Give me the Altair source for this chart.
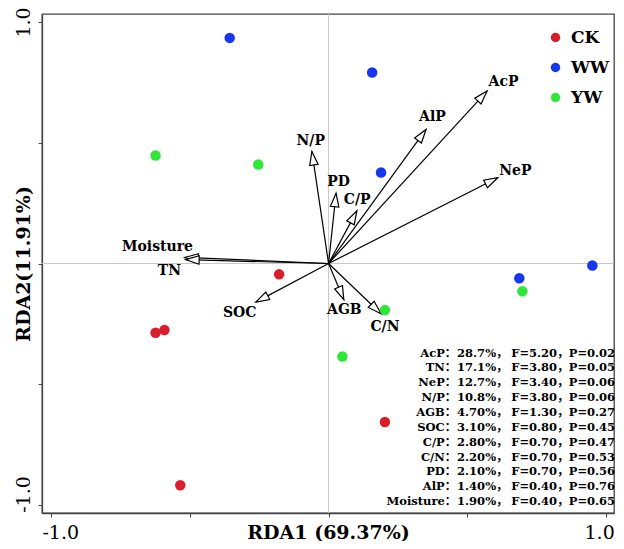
import math
import altair as alt
import pandas as pd

# ---------------- data ----------------
ck_x = [-0.178, -0.623, -0.591, 0.203, -0.534]
ck_y = [-0.045, -0.287, -0.275, -0.656, -0.918]
ww_x = [-0.356, 0.157, 0.189, 0.687, 0.950]
ww_y = [0.934, 0.791, 0.377, -0.061, -0.008]
yw_x = [-0.623, -0.253, 0.203, 0.050, 0.698]
yw_y = [0.447, 0.410, -0.193, -0.385, -0.115]

env_names = ["AcP", "AlP", "NeP", "N/P", "PD", "C/P", "Moisture", "TN", "SOC", "AGB", "C/N"]
env_x = [0.571, 0.351, 0.609, -0.060, 0.027, 0.102, -0.518, -0.515, -0.262, 0.055, 0.189]
env_y = [0.714, 0.555, 0.355, 0.464, 0.291, 0.218, 0.025, 0.016, -0.160, -0.150, -0.208]
lab_x = [0.630, 0.374, 0.673, -0.064, 0.036, 0.103, -0.616, -0.573, -0.320, 0.057, 0.203]
lab_y = [0.750, 0.607, 0.381, 0.508, 0.336, 0.262, 0.070, -0.029, -0.205, -0.193, -0.262]

tbl_var = ["AcP", "TN", "NeP", "N/P", "AGB", "SOC", "C/P", "C/N", "PD", "AlP", "Moisture"]
tbl_pct = ["28.7%", "17.1%", "12.7%", "10.8%", "4.70%", "3.10%", "2.80%", "2.20%", "2.10%", "1.40%", "1.90%"]
tbl_F = ["5.20", "3.80", "3.40", "3.80", "1.30", "0.80", "0.70", "0.70", "0.70", "0.40", "0.40"]
tbl_P = ["0.02", "0.05", "0.06", "0.06", "0.27", "0.45", "0.47", "0.53", "0.56", "0.76", "0.65"]

groups = ["CK", "WW", "YW"]
colors = ["#d81e2c", "#1736f0", "#2fe63a"]

# ---------------- layout ----------------
W, H = 572, 499
XD = [-1.032, 1.028]
YD = [-1.033, 1.033]
kx = W / (XD[1] - XD[0])
ky = H / (YD[1] - YD[0])
SERIF = "DejaVu Serif, Noto Sans CJK SC"

xs = alt.Scale(domain=XD, nice=False, zero=False)
ys = alt.Scale(domain=YD, nice=False, zero=False)

xaxis = alt.Axis(
    values=[-1, -0.5, 0, 0.5, 1],
    labelExpr="datum.value == 1 ? '1.0' : datum.value == -1 ? '-1.0' : ''",
    title="RDA1 (69.37%)", titleFont=SERIF, titleFontSize=19, titleFontWeight="bold",
    titleColor="black", titleX=W / 2, titleY=25, titleBaseline="alphabetic", titleAlign="center",
    labelFont=SERIF, labelFontSize=19, labelColor="black", labelBaseline="alphabetic",
    labelPadding=21, tickSize=4, tickColor="#444", domainColor="#444", domainWidth=1.3,
    grid=False, labelOverlap=False,
    labelAlign={"condition": {"test": "datum.value < 0", "value": "left"}, "value": "right"},
    labelOffset={"condition": {"test": "datum.value < 0", "value": -9}, "value": 8},
)
yaxis = alt.Axis(
    values=[-1, -0.5, 0, 0.5, 1],
    labelExpr="datum.value == 1 ? '1.0' : datum.value == -1 ? '-1.0' : ''",
    title="RDA2(11.91%)", titleFont=SERIF, titleFontSize=19, titleFontWeight="bold",
    titleColor="black", titleX=-13, titleY=H / 2, titleBaseline="alphabetic", titleAlign="center",
    titleAngle=270,
    labelFont=SERIF, labelFontSize=19, labelColor="black", labelAngle=270,
    labelAlign="center", labelBaseline="alphabetic",
    labelPadding=9, tickSize=4, tickColor="#444", domainColor="#444", domainWidth=1.3,
    grid=False, labelOverlap=False,
    labelOffset={"condition": {"test": "datum.value < 0", "value": -11}, "value": 0},
)


def X(f):
    return alt.X(f, type="quantitative", scale=xs, axis=xaxis)


def Y(f):
    return alt.Y(f, type="quantitative", scale=ys, axis=yaxis)


zero_df = pd.DataFrame({"v": [0]})
vline = alt.Chart(zero_df).mark_rule(color="#c8c8c8", strokeWidth=1).encode(x=X("v"))
hline = alt.Chart(zero_df).mark_rule(color="#c8c8c8", strokeWidth=1).encode(y=Y("v"))

pts = pd.DataFrame({
    "x": ck_x + ww_x + yw_x,
    "y": ck_y + ww_y + yw_y,
    "group": ["CK"] * len(ck_x) + ["WW"] * len(ww_x) + ["YW"] * len(yw_x),
})
points = alt.Chart(pts).mark_circle(size=110, opacity=1).encode(
    x=X("x"), y=Y("y"),
    color=alt.Color("group:N", scale=alt.Scale(domain=groups, range=colors),
                    legend=alt.Legend(title=None, orient="none", legendX=505, legendY=15,
                                      labelFont=SERIF, labelFontWeight="bold", labelFontSize=17,
                                      labelColor="black", symbolSize=90, symbolType="circle",
                                      symbolStrokeWidth=0, rowPadding=12, labelOffset=7,
                                      padding=0, symbolOpacity=1)),
)

angles = [(math.degrees(math.atan2(dx * kx, dy * ky)) + 360) % 360 for dx, dy in zip(env_x, env_y)]
env = pd.DataFrame({
    "name": env_names, "x0": [0.0] * len(env_x), "y0": [0.0] * len(env_x),
    "x": env_x, "y": env_y, "lx": lab_x, "ly": lab_y, "ang": angles,
})
shafts = alt.Chart(env).mark_rule(color="black", strokeWidth=1.2).encode(
    x=X("x0"), y=Y("y0"), x2="x", y2="y")
heads = alt.Chart(env).mark_point(
    shape="M0,0 L1,3.2 L-1,3.2 Z", filled=True, fill="white", stroke="black",
    strokeWidth=1.2, size=72, opacity=1,
).encode(x=X("x"), y=Y("y"), angle=alt.Angle("ang:Q", scale=None))
env_labels = alt.Chart(env).mark_text(
    font=SERIF, fontWeight="bold", fontSize=14, color="black", align="center", baseline="middle"
).encode(x=X("lx"), y=Y("ly"), text="name:N")

# statistics table (annotation)
row_y0, row_step = -0.373, 0.0615
rows_y = [row_y0 - row_step * i for i in range(len(tbl_var))]
name_df = pd.DataFrame({"t": [v + "：" for v in tbl_var],
                        "x": [0.460] * len(tbl_var), "y": rows_y})
left_t, left_x, left_y = [], [], []
for i in range(len(tbl_var)):
    for txt, xx in [(tbl_pct[i] + "，", 0.463),
                    ("F=" + tbl_F[i] + "，", 0.658), ("P=" + tbl_P[i], 0.865)]:
        left_t.append(txt)
        left_x.append(xx)
        left_y.append(rows_y[i])
left_df = pd.DataFrame({"t": left_t, "x": left_x, "y": left_y})
tbl_names = alt.Chart(name_df).mark_text(
    font=SERIF, fontWeight="bold", fontSize=11.5, color="black", align="right", baseline="middle"
).encode(x=X("x"), y=Y("y"), text="t:N")
tbl_rest = alt.Chart(left_df).mark_text(
    font=SERIF, fontWeight="bold", fontSize=11.5, color="black", align="left", baseline="middle"
).encode(x=X("x"), y=Y("y"), text="t:N")

chart = alt.layer(vline, hline, shafts, heads, env_labels, points, tbl_names, tbl_rest).properties(
    width=W, height=H,
    autosize=alt.AutoSizeParams(type="none"),
    padding={"left": 34, "top": 6, "right": 2, "bottom": 28},
).configure_view(stroke="#444", strokeWidth=1.3)

chart.save("out.html", embed_options={"renderer": "svg", "actions": False})
